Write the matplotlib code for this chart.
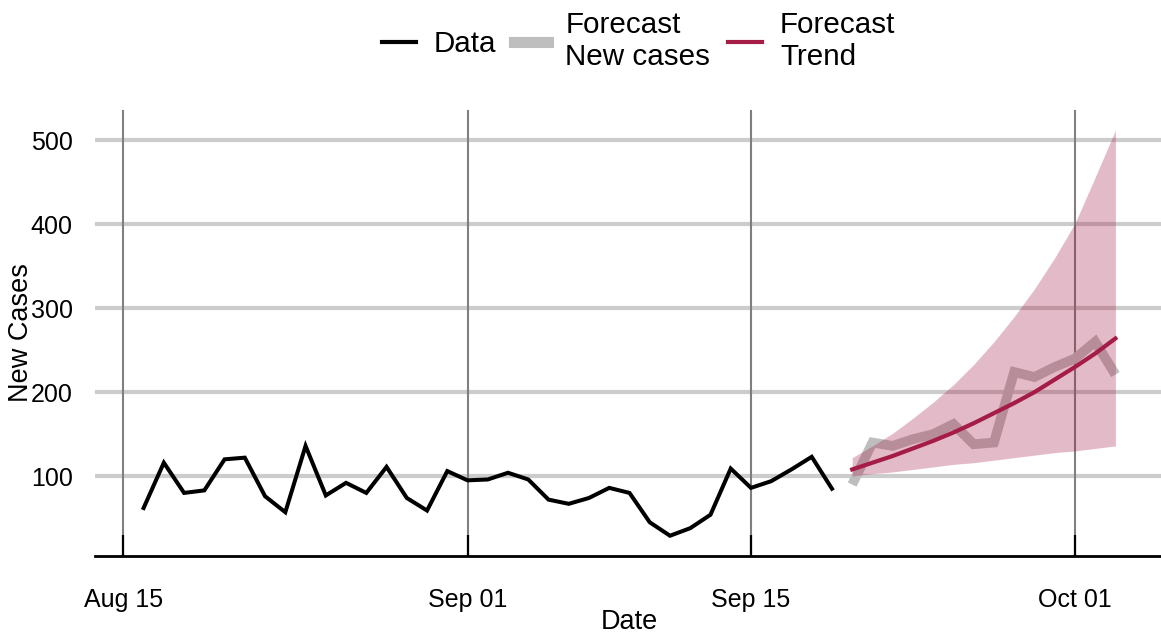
import numpy as np
import matplotlib
matplotlib.use("Agg")
import matplotlib.pyplot as plt
import matplotlib.dates as mdates
from matplotlib.lines import Line2D

plt.rcParams["font.family"] = ["Liberation Sans", "DejaVu Sans"]

# Observed daily new cases
obs_dates = np.arange(np.datetime64("2020-08-16"), np.datetime64("2020-09-20"))
obs_cases = [62, 116, 80, 83, 120, 122, 76, 57, 136, 77, 92, 80, 111, 74, 59, 106,
             95, 96, 104, 96, 72, 67, 74, 86, 80, 45, 29, 38, 54, 109, 86, 94, 108, 123, 85]

# Forecast horizon
fc_dates = np.arange(np.datetime64("2020-09-20"), np.datetime64("2020-10-04"))
fc_cases = [90, 140, 136, 144, 150, 162, 138, 140, 224, 218, 230, 240, 260, 221]
fc_trend = [108, 116, 124, 133, 142, 152, 163, 175, 187, 200, 215, 230, 246, 264]
fc_lower = [100, 103, 105, 108, 111, 114, 116, 119, 122, 125, 128, 130, 133, 136]
fc_upper = [122, 136, 151, 169, 188, 209, 233, 260, 290, 323, 360, 401, 456, 512]

x_breaks = ["2020-08-15", "2020-09-01", "2020-09-15", "2020-10-01"]
y_breaks = [100, 200, 300, 400, 500]

DATA_COL = "black"
NEW_COL = "#BEBEBE"
TREND_COL = "#A51C46"

fig = plt.figure(figsize=(11.61, 6.37), dpi=100)
ax = fig.add_axes([95 / 1161, 1 - 556 / 637, 1069 / 1161, 446 / 637])

xs_obs = mdates.date2num(obs_dates.astype("datetime64[D]").astype(object))
xs_fc = mdates.date2num(fc_dates.astype("datetime64[D]").astype(object))

ax.plot(xs_obs, obs_cases, color=DATA_COL, lw=2.9, solid_joinstyle="miter", zorder=3)
ax.plot(xs_fc, fc_cases, color=NEW_COL, lw=7, solid_capstyle="butt",
        solid_joinstyle="miter", zorder=3)
ax.fill_between(xs_fc, fc_lower, fc_upper, color=TREND_COL, alpha=0.3, lw=0, zorder=4)
ax.plot(xs_fc, fc_trend, color=TREND_COL, lw=3, zorder=5)

# Axis limits with 5% expansion around the data range
x_min, x_max = xs_obs[0], xs_fc[-1]
dx = (x_max - x_min) * 0.05
ax.set_xlim(x_min - dx, x_max + dx)
all_vals = obs_cases + fc_cases + fc_lower + fc_upper
y_lo, y_hi = min(all_vals), max(all_vals)
dy = (y_hi - y_lo) * 0.05
ax.set_ylim(y_lo - dy, y_hi + dy)

xt = mdates.date2num([np.datetime64(d).astype(object) for d in x_breaks])
ax.set_xticks(xt)
ax.xaxis.set_major_formatter(mdates.DateFormatter("%b %d"))
ax.set_yticks(y_breaks)

# Grid: light horizontal, darker vertical
for y in y_breaks:
    ax.axhline(y, color="#CCCCCC", lw=3, zorder=1)
for x in xt:
    ax.axvline(x, color="#7F7F7F", lw=1.5, zorder=1)

for s in ["top", "right", "left"]:
    ax.spines[s].set_visible(False)
ax.spines["bottom"].set_linewidth(2)
ax.spines["bottom"].set_color("black")

ax.tick_params(axis="x", direction="in", length=15, width=1.6, color="black",
               pad=23, labelsize=18)
ax.tick_params(axis="y", length=0, pad=16, labelsize=18)

ax.set_xlabel("Date", fontsize=19.5, labelpad=-2)
ax.set_ylabel("New Cases", fontsize=19.5)
ax.yaxis.set_label_coords(-0.057, 0.5)

handles = [
    Line2D([], [], color=DATA_COL, lw=3),
    Line2D([], [], color=NEW_COL, lw=8),
    Line2D([], [], color=TREND_COL, lw=3),
]
labels = ["Data", "Forecast\nNew cases", "Forecast\nTrend"]
fig.legend(handles, labels, loc="upper center", bbox_to_anchor=(0.55, 1.025),
           ncol=3, frameon=False, fontsize=21.3, handlelength=1.15,
           handletextpad=0.6, columnspacing=0.6, labelspacing=0.1)

fig.savefig("out.png", dpi=100)
